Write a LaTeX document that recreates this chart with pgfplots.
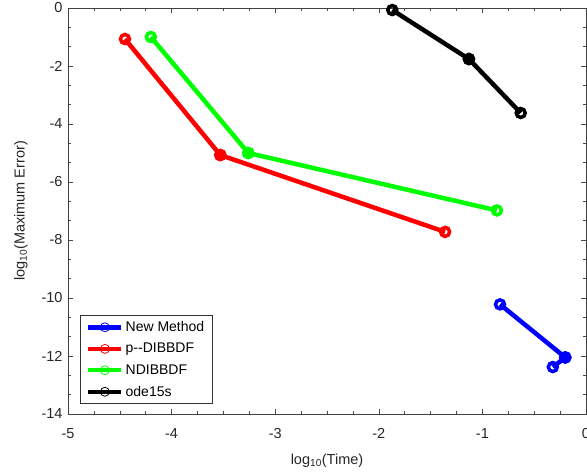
\documentclass[border=0pt]{standalone}
\usepackage{pgfplots}
\pgfplotsset{compat=1.18}
\usepackage{fontspec}
\setmainfont{Liberation Sans}

% series: log10(time) vs log10(max error)
\pgfplotstableread{
x y
-0.83 -10.22
-0.20 -12.05
-0.32 -12.38
}\newmethod
\pgfplotstableread{
x y
-4.45 -1.07
-3.53 -5.07
-1.36 -7.72
}\pdibbdf
\pgfplotstableread{
x y
-4.20 -1.00
-3.26 -5.00
-0.86 -6.98
}\ndibbdf
\pgfplotstableread{
x y
-1.87 -0.07
-1.13 -1.76
-0.63 -3.62
}\odes

\begin{document}
\begin{tikzpicture}
\begin{axis}[
  at={(0pt,0pt)}, anchor=south west,
  scale only axis,
  width=518pt, height=406pt,
  xmin=-5, xmax=0, ymin=-14, ymax=0,
  xtick={-5,-4,...,0}, ytick={-14,-12,...,0},
  minor x tick num=3, minor y tick num=2,
  tick align=inside,
  major tick length=5pt, minor tick length=3pt,
  tick style={black!70, line width=0.5pt},
  axis line style={black!75, line width=0.6pt},
  /pgf/number format/assume math mode=true,
  ticklabel style={font=\fontsize{14.5}{17}\selectfont, text=black!85},
  xticklabel style={yshift=-11pt},
  yticklabel style={xshift=-2pt},
  label style={font=\fontsize{14.5}{17}\selectfont, text=black!85},
  xlabel={log\textsubscript{10}(Time)},
  ylabel={log\textsubscript{10}(Maximum Error)},
  xlabel style={yshift=-8pt},
  ylabel style={yshift=7pt},
  legend style={
    at={(0.023,0.025)}, anchor=south west,
    font=\fontsize{14}{16}\selectfont,
    draw=black!80, line width=0.5pt,
    row sep=6.2pt, inner xsep=6pt, inner ysep=4pt,
  },
  legend cell align=left,
  legend image code/.code={
    \draw[line width=4.5pt, mark=none] (0pt,0pt) -- (33pt,0pt);
    \draw[line width=0.8pt, fill=none] (16.5pt,0pt) circle (4.5pt);
  },
  every axis plot/.append style={line width=4.5pt, mark=o, mark size=4.5pt,
    mark options={line width=3.5pt}},
]
\addplot[blue] table {\newmethod};
\addlegendentry{New Method}
\addplot[red] table {\pdibbdf};
\addlegendentry{p{-}{-}DIBBDF}
\addplot[green] table {\ndibbdf};
\addlegendentry{NDIBBDF}
\addplot[black] table {\odes};
\addlegendentry{ode15s}

% filled marks where the segments meet
\addplot[blue, forget plot, only marks, mark=*, mark indices={2}] table {\newmethod};
\addplot[red, forget plot, only marks, mark=*, mark indices={2}] table {\pdibbdf};
\addplot[green, forget plot, only marks, mark=*, mark indices={2}] table {\ndibbdf};
\addplot[black, forget plot, only marks, mark=*, mark indices={2}] table {\odes};
\end{axis}
\pgfresetboundingbox
\path[use as bounding box] (-68pt,-61pt) rectangle (519pt,414pt);
\end{tikzpicture}
\end{document}
